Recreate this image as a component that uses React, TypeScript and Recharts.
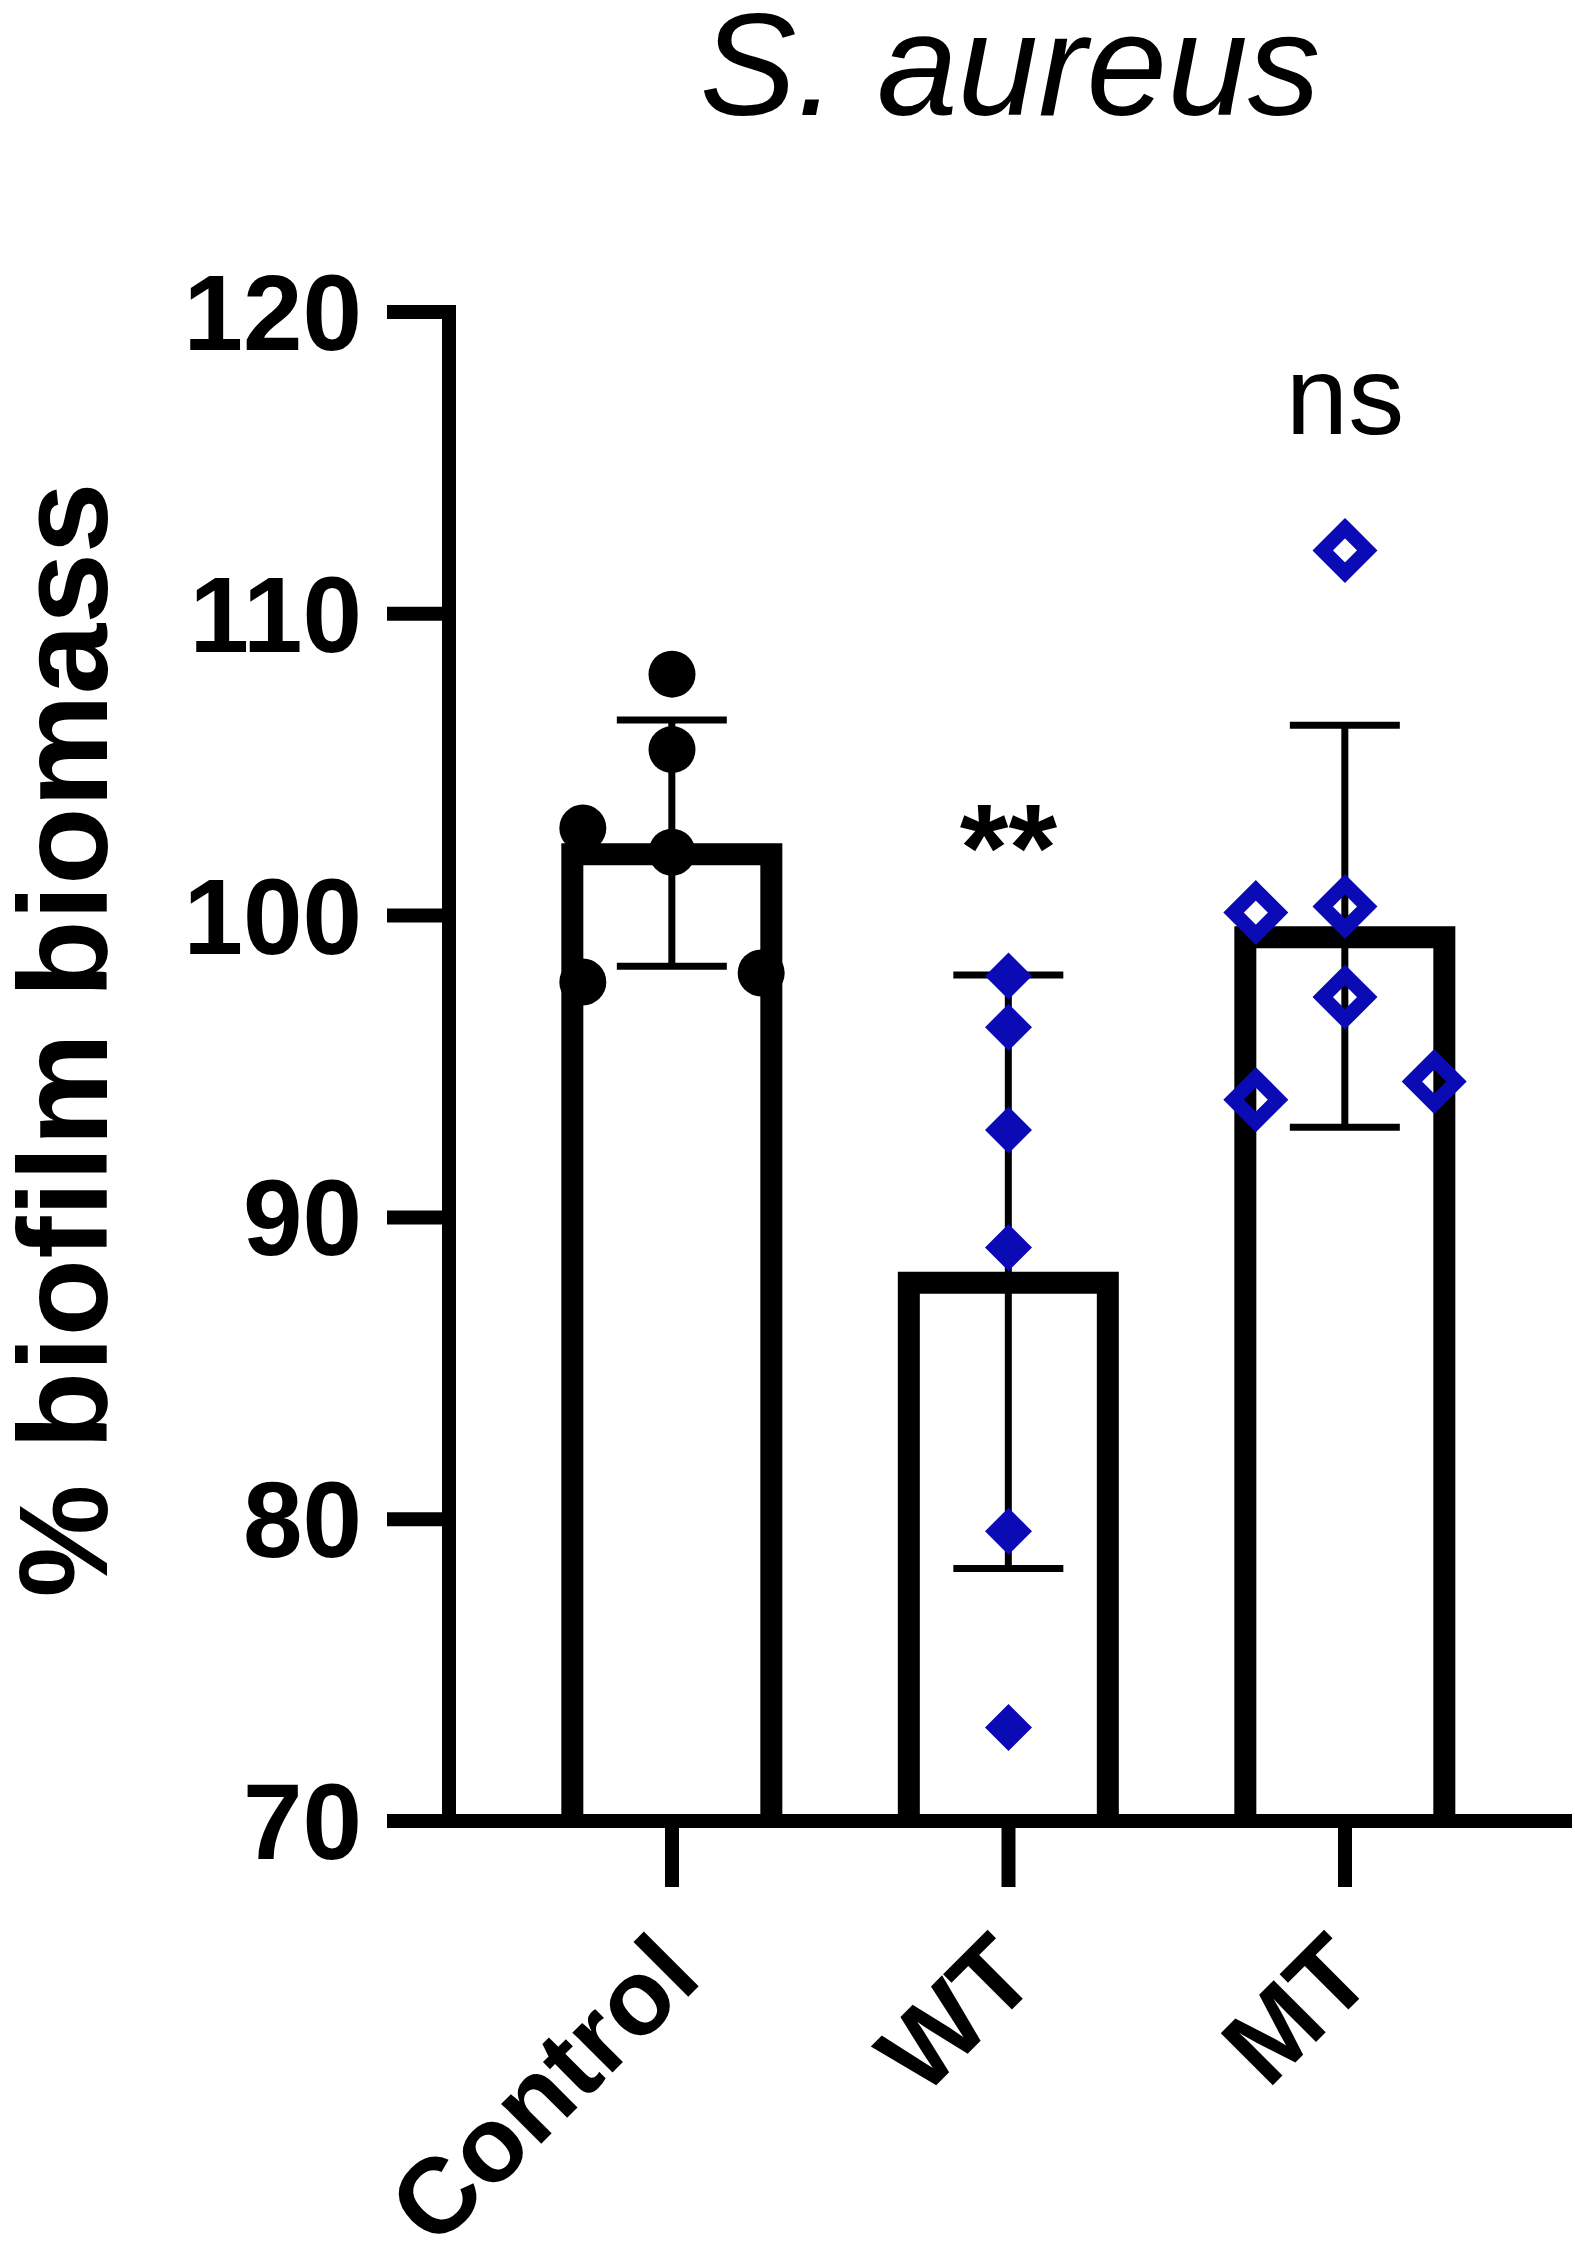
import React from 'react'
import { ComposedChart, Bar, ErrorBar, Scatter, XAxis, YAxis } from 'recharts'

// groups along the x axis
const CATEGORIES = ['Control', 'WT', 'MT']
const MEANS = [102.4, 88.2, 99.65]
const SDS = [4.08, 9.83, 6.66]

// individual replicates (value) and their jitter lane (-1 left, 0 centre, 1 right)
const CONTROL_VALUES = [108.0, 105.5, 102.9, 102.1, 97.8, 98.1]
const CONTROL_LANES = [0, 0, -1, 0, -1, 1]
const WT_VALUES = [98.0, 96.3, 92.9, 89.0, 79.6, 73.1]
const WT_LANES = [0, 0, 0, 0, 0, 0]
const MT_VALUES = [112.1, 100.1, 100.3, 97.3, 93.9, 94.5]
const MT_LANES = [0, -1, 0, 0, -1, 1]

const Y_TICKS = [70, 80, 90, 100, 110, 120]
const SIG_TEXT = ['**', 'ns']
const SIG_GROUP = [1, 2]
const SIG_LEVEL = [100.8, 115.95]

const FONT = '"Liberation Sans", Arial, Helvetica, sans-serif'
const BLUE = '#0b0bb5'
const LANE_SPREAD = 0.265
const BAR_W = 221

const barData = CATEGORIES.map((c, i) => ({ x: i, mean: MEANS[i], sd: SDS[i] }))
const toPoints = (group: number, values: number[], lanes: number[]) =>
  values.map((v, i) => ({ x: group + lanes[i] * LANE_SPREAD, value: v }))
const controlPts = toPoints(0, CONTROL_VALUES, CONTROL_LANES)
const wtPts = toPoints(1, WT_VALUES, WT_LANES)
const mtPts = toPoints(2, MT_VALUES, MT_LANES)
const sigData = SIG_TEXT.map((t, i) => ({ x: SIG_GROUP[i], value: SIG_LEVEL[i], text: t }))

// open-bottom bar outline, border drawn inside the bar's footprint
const BarOutline = (p: any) => {
  const { x, y, width, height } = p
  const s = 22
  const h = s / 2
  const cx = x + width / 2
  const l = cx - BAR_W / 2
  const r = cx + BAR_W / 2
  return (
    <path
      d={`M${l + h},${y + height} V${y + h} H${r - h} V${y + height}`}
      fill="none"
      stroke="#000"
      strokeWidth={s}
      strokeLinejoin="miter"
    />
  )
}

const Dot = (p: any) => <circle cx={p.cx} cy={p.cy} r={23.5} fill="#000" />

const FilledDiamond = (p: any) => {
  const r = 23.5
  return (
    <path
      d={`M${p.cx},${p.cy - r} L${p.cx + r},${p.cy} L${p.cx},${p.cy + r} L${p.cx - r},${p.cy} Z`}
      fill={BLUE}
    />
  )
}

const OpenDiamond = (p: any) => {
  const r = 22.25
  return (
    <path
      d={`M${p.cx},${p.cy - r} L${p.cx + r},${p.cy} L${p.cx},${p.cy + r} L${p.cx - r},${p.cy} Z`}
      fill="none"
      stroke={BLUE}
      strokeWidth={14.5}
      strokeLinejoin="miter"
    />
  )
}

const SigLabel = (p: any) => {
  const bold = p.payload.text === '**'
  return (
    <text
      x={p.cx}
      y={p.cy}
      textAnchor="middle"
      fontFamily={FONT}
      fontSize={bold ? 125 : 112}
      fontWeight={bold ? 700 : 400}
      fill="#000"
    >
      {p.payload.text}
    </text>
  )
}

const XTick = (p: any) => {
  const ax = p.x + 32
  const ay = p.y + 92
  return (
    <text
      x={ax}
      y={ay}
      transform={`rotate(-45 ${ax} ${ay})`}
      textAnchor="end"
      fontFamily={FONT}
      fontSize={107}
      fontWeight={700}
      fill="#000"
    >
      {CATEGORIES[p.payload.value]}
    </text>
  )
}

export default function App() {
  return (
    <div style={{ position: 'relative', width: 1575, height: 2261, background: '#fff' }}>
      <style>{'body{margin:0}'}</style>
      <ComposedChart
        width={1575}
        height={2261}
        data={barData}
        margin={{ top: 312, right: 3, bottom: 0, left: 0 }}
      >
        <XAxis
          type="number"
          dataKey="x"
          domain={[-0.6627, 2.6746]}
          ticks={[0, 1, 2]}
          allowDataOverflow
          interval={0}
          height={440}
          tickSize={66}
          axisLine={{ stroke: '#000', strokeWidth: 14 }}
          tickLine={{ stroke: '#000', strokeWidth: 14 }}
          tick={<XTick />}
        />
        <YAxis
          type="number"
          domain={[70, 120]}
          ticks={Y_TICKS}
          allowDataOverflow
          interval={0}
          width={449}
          tickSize={62}
          tickMargin={25}
          axisLine={{ stroke: '#000', strokeWidth: 14, strokeLinecap: 'square' }}
          tickLine={{ stroke: '#000', strokeWidth: 14 }}
          tick={{ fill: '#000', fontSize: 107, fontWeight: 700, fontFamily: FONT }}
        />
        <Bar dataKey="mean" shape={BarOutline} isAnimationActive={false}>
          <ErrorBar dataKey="sd" width={55} strokeWidth={7} stroke="#000" direction="y" />
        </Bar>
        <Scatter data={controlPts} dataKey="value" shape={Dot} isAnimationActive={false} />
        <Scatter data={wtPts} dataKey="value" shape={FilledDiamond} isAnimationActive={false} />
        <Scatter data={mtPts} dataKey="value" shape={OpenDiamond} isAnimationActive={false} />
        <Scatter data={sigData} dataKey="value" shape={SigLabel} isAnimationActive={false} />
      </ComposedChart>
      <svg
        width={1575}
        height={2261}
        style={{ position: 'absolute', left: 0, top: 0, pointerEvents: 'none' }}
      >
        <text x={1010} y={115} textAnchor="middle" fontFamily={FONT} fontSize={145} fontStyle="italic" fill="#000">
          S. aureus
        </text>
        <text
          x={107}
          y={1040}
          transform="rotate(-90 107 1040)"
          textAnchor="middle"
          fontFamily={FONT}
          fontSize={127}
          fontWeight={700}
          fill="#000"
        >
          % biofilm biomass
        </text>
      </svg>
    </div>
  )
}
